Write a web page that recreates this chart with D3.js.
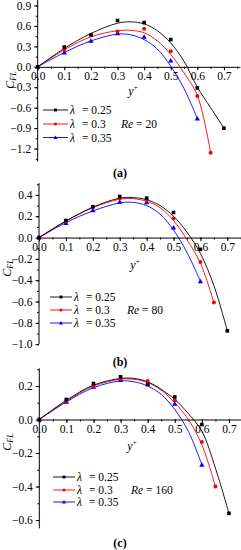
<!DOCTYPE html>
<html><head><meta charset="utf-8">
<script src="https://cdn.jsdelivr.net/npm/d3@7"></script>
<style>body{margin:0;background:#fff;} svg{display:block;} text{font-family:"Liberation Serif","Times New Roman",serif !important;}</style>
</head><body>
<svg id="c" width="241" height="550"></svg>
<script>
// ---------- data ----------
const lambdas = ["0.25", "0.3", "0.35"];
const colors = ["#000000", "#ff0000", "#0000ff"];
const reValues = ["20", "80", "160"];
const captions = ["(a)", "(b)", "(c)"];
const xTicks = [0, 0.1, 0.2, 0.3, 0.4, 0.5, 0.6, 0.7];

// Panel (a) Re = 20 : measured points
const xA = [[0,0.1,0.2,0.3,0.4,0.5,0.6,0.7],[0,0.1,0.2,0.3,0.4,0.5,0.6,0.65],[0,0.1,0.2,0.3,0.4,0.5,0.6]];
const ptsA025 = [0, 0.29, 0.47, 0.68, 0.65, 0.40, -0.31, -0.90];
const ptsA030 = [0, 0.25, 0.47, 0.52, 0.56, 0.23, -0.43, -1.26];
const ptsA035 = [0, 0.21, 0.38, 0.49, 0.44, 0.09, -0.76];
// fitted curves x positions
const fitX1 = [0,0.1,0.2,0.3,0.35,0.4,0.45,0.5,0.55,0.6,0.65,0.7];
const fitX2 = [0,0.1,0.2,0.3,0.35,0.4,0.45,0.5,0.55,0.6,0.65];
const fitX3 = [0,0.1,0.2,0.3,0.35,0.4,0.45,0.5,0.55,0.6];
const fitA025 = [0, 0.27, 0.49, 0.64, 0.66, 0.63, 0.53, 0.35, 0.08, -0.30, -0.60, -0.90];
const fitA030 = [0, 0.25, 0.44, 0.53, 0.535, 0.50, 0.38, 0.18, -0.09, -0.42, -1.26];
const fitA035 = [0, 0.21, 0.38, 0.48, 0.47, 0.40, 0.26, 0.01, -0.32, -0.76];
const yTicksA = [-1.2, -0.9, -0.6, -0.3, 0, 0.3, 0.6, 0.9];

// Panel (b) Re = 80
const ptsB025 = [0, 0.16, 0.29, 0.385, 0.37, 0.235, -0.11, -0.875];
const ptsB030 = [0, 0.155, 0.285, 0.37, 0.355, 0.18, -0.23, -0.61];
const ptsB035 = [0, 0.135, 0.255, 0.335, 0.33, 0.093, -0.41];
const fitB025 = [0, 0.155, 0.285, 0.37, 0.375, 0.355, 0.30, 0.20, 0.05, -0.15, -0.45, -0.875];
const fitB030 = [0, 0.155, 0.28, 0.36, 0.365, 0.34, 0.28, 0.16, -0.02, -0.24, -0.61];
const fitB035 = [0, 0.14, 0.25, 0.325, 0.33, 0.30, 0.22, 0.07, -0.14, -0.41];
const yTicksB = [-1.0, -0.8, -0.6, -0.4, -0.2, 0, 0.2, 0.4];

// Panel (c) Re = 160
const ptsC025 = [0, 0.12, 0.215, 0.255, 0.21, 0.135, -0.03, -0.56];
const ptsC030 = [0, 0.115, 0.20, 0.245, 0.23, 0.115, -0.135, -0.40];
const ptsC035 = [0, 0.105, 0.195, 0.235, 0.21, 0.093, -0.27];
const fitC025 = [0, 0.115, 0.205, 0.245, 0.245, 0.225, 0.18, 0.12, 0.035, -0.07, -0.29, -0.56];
const fitC030 = [0, 0.11, 0.20, 0.24, 0.24, 0.22, 0.175, 0.10, 0.0, -0.15, -0.40];
const fitC035 = [0, 0.105, 0.19, 0.23, 0.225, 0.20, 0.15, 0.06, -0.07, -0.27];
const yTicksC = [-0.6, -0.4, -0.2, 0, 0.2];

// ---------- drawing ----------
const svg = d3.select("#c");
const FONT = "Liberation Serif";
const panels = [
  {pts:[ptsA025,ptsA030,ptsA035], fit:[fitA025,fitA030,fitA035], yTicks:yTicksA, yMinorStep:0.15,
   xr:[37.7, 239.9], xd:[0,0.76], yd:[-1.39,0.98], yr:[161.5,0.06],
   leg:{x1:43, x2:68, tx:70, ys:[110,124,137.5]}, re:{x:121, y:124}, cap:{x:120, y:173},
   ylab:{x:10, y:80}, xlab:{x:133, y:91}},
  {pts:[ptsB025,ptsB030,ptsB035], fit:[fitB025,fitB030,fitB035], yTicks:yTicksB, yMinorStep:0.1,
   xr:[39, 240.8], xd:[0,0.75], yd:[-1.0,0.51], yr:[344.2,183.2],
   leg:{x1:50, x2:72, tx:74, ys:[297,310,323]}, re:{x:127, y:310}, cap:{x:120, y:362},
   ylab:{x:7, y:268}, xlab:{x:135, y:265}},
  {pts:[ptsC025,ptsC030,ptsC035], fit:[fitC025,fitC030,fitC035], yTicks:yTicksC, yMinorStep:0.1,
   xr:[39.3, 242.5], xd:[0,0.75], yd:[-0.65,0.305], yr:[528.4,368.4],
   leg:{x1:53, x2:75, tx:77, ys:[477,490,502]}, re:{x:131, y:490}, cap:{x:120, y:543},
   ylab:{x:7, y:442}, xlab:{x:132, y:446}}
];
const fitXs = [fitX1, fitX2, fitX3];

function marker(g, i, cx, cy, s) {
  s = s || 1;
  if (i === 0) g.append("rect").attr("x", cx-1.8*s).attr("y", cy-1.8*s).attr("width", 3.6*s).attr("height", 3.6*s).attr("fill", colors[0]);
  else if (i === 1) g.append("circle").attr("cx", cx).attr("cy", cy).attr("r", 2.0*s).attr("fill", colors[1]);
  else g.append("path").attr("d", d3.symbol(d3.symbolTriangle, 12*s*s)()).attr("transform", `translate(${cx},${cy+0.4})`).attr("fill", colors[2]);
}

panels.forEach((p, pi) => {
  const g = svg.append("g");
  const x = d3.scaleLinear().domain(p.xd).range(p.xr);
  const y = d3.scaleLinear().domain(p.yd).range(p.yr);
  const fs = 11.5;

  // y axis (major + minor)
  const minorY = d3.range(Math.ceil(p.yd[0]/p.yMinorStep - 1e-9), Math.floor(p.yd[1]/p.yMinorStep + 1e-9) + 1).map(k => +(k*p.yMinorStep).toFixed(3));
  g.append("g").attr("transform", `translate(${x(0)},0)`)
    .call(d3.axisLeft(y).tickValues(minorY).tickSize(2).tickFormat(""))
    .call(s => s.select(".domain").remove());
  const ya = g.append("g").attr("transform", `translate(${x(0)},0)`)
    .call(d3.axisLeft(y).tickValues(p.yTicks).tickSize(3.5).tickSizeOuter(0).tickPadding(3).tickFormat(d3.format(".1f")));
  ya.attr("font-family", FONT).attr("font-size", fs);
  ya.select(".domain").attr("d", `M0,${y.range()[0]}V${y.range()[1]}`);
  ya.selectAll("text").attr("fill", "#000");

  // x axis at y=0 (major + minor)
  const minorX = d3.range(0, 0.751, 0.05);
  g.append("g").attr("transform", `translate(0,${y(0)})`)
    .call(d3.axisBottom(x).tickValues(minorX).tickSize(2).tickFormat(""))
    .call(s => s.select(".domain").remove());
  const xa = g.append("g").attr("transform", `translate(0,${y(0)})`)
    .call(d3.axisBottom(x).tickValues(xTicks).tickSize(3.5).tickSizeOuter(0).tickPadding(1.5).tickFormat(d3.format(".1f")));
  xa.attr("font-family", FONT).attr("font-size", fs);
  xa.selectAll("text").attr("fill", "#000");

  // fitted curves
  const line = d3.line().x(d => x(d[0])).y(d => y(d[1])).curve(d3.curveCatmullRom.alpha(0.5));
  [2, 1, 0].forEach(i => {
    const data = fitXs[i].map((xv, k) => [xv, p.fit[i][k]]);
    g.append("path").attr("d", line(data)).attr("fill", "none").attr("stroke", colors[i]).attr("stroke-width", 0.9);
  });
  // points
  [2, 1, 0].forEach(i => {
    xA[i].forEach((xv, k) => marker(g, i, x(xv), y(p.pts[i][k])));
  });

  // legend
  lambdas.forEach((lam, i) => {
    const ly = p.leg.ys[i];
    g.append("line").attr("x1", p.leg.x1).attr("x2", p.leg.x2).attr("y1", ly).attr("y2", ly).attr("stroke", colors[i]).attr("stroke-width", 0.9);
    marker(g, i, (p.leg.x1 + p.leg.x2)/2, ly, 0.8);
    const t = g.append("text").attr("x", p.leg.tx).attr("y", ly + 4).attr("font-size", "11.5px").attr("fill", "#000");
    t.append("tspan").attr("font-style", "italic").text("λ");
    t.append("tspan").attr("dx", 7).text("= " + lam);
  });
  const rt = g.append("text").attr("x", p.re.x).attr("y", p.re.y + 4).attr("font-size", "11.5px").attr("fill", "#000");
  rt.append("tspan").attr("font-style", "italic").text("Re");
  rt.append("tspan").text(" = " + reValues[pi]);

  // axis labels
  const yl = g.append("text").attr("transform", `translate(${p.ylab.x + 4},${p.ylab.y}) rotate(-90)`).attr("text-anchor", "middle").attr("font-size", "12px").attr("fill", "#000");
  yl.append("tspan").attr("font-style", "italic").text("C");
  yl.append("tspan").attr("font-style", "italic").attr("font-size", "8px").attr("dy", 2).text("FL");
  const xl = g.append("text").attr("x", p.xlab.x).attr("y", p.xlab.y + 4).attr("text-anchor", "middle").attr("font-size", "12px").attr("fill", "#000");
  xl.append("tspan").attr("font-style", "italic").text("y");
  xl.append("tspan").attr("font-size", "7px").attr("dy", -5).text("+");

  // caption
  svg.append("text").attr("x", p.cap.x).attr("y", p.cap.y + 4).attr("text-anchor", "middle").attr("font-size", "12px").attr("font-weight", "bold").attr("fill", "#000").text(captions[pi]);
});
</script>
</body></html>
